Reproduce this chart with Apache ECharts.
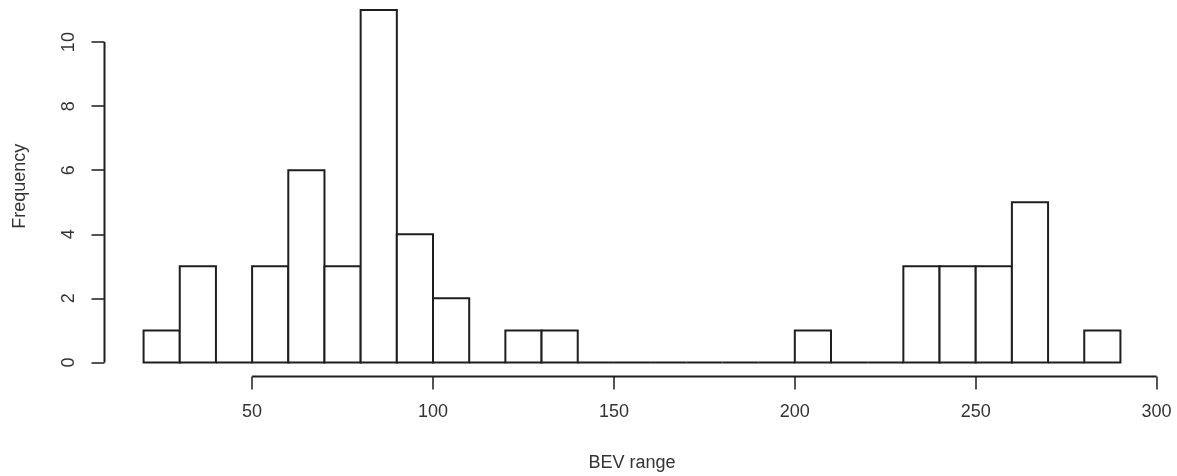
<!DOCTYPE html>
<html>
<head>
<meta charset="utf-8">
<script src="https://cdn.jsdelivr.net/npm/echarts@6/dist/echarts.min.js"></script>
<style>
  html, body { margin: 0; padding: 0; background: #fff; }
  #chart { width: 1177px; height: 476px; }
</style>
</head>
<body>
<div id="chart"></div>
<script>
// histogram of BEV range, bins of width 10
const binStarts = [20, 30, 40, 50, 60, 70, 80, 90, 100, 110, 120, 130, 140, 150, 160, 170, 180, 190,
  200, 210, 220, 230, 240, 250, 260, 270, 280];
const counts = [1, 3, 0, 3, 6, 3, 11, 4, 2, 0, 1, 1, 0, 0, 0, 0, 0, 0,
  1, 0, 0, 3, 3, 3, 5, 0, 1];
const binWidth = 10;
const xTicks = [50, 100, 150, 200, 250, 300];
const yTicks = [0, 2, 4, 6, 8, 10];

// R-style 4% padding on both axes
const dataLo = binStarts[0];
const dataHi = binStarts[binStarts.length - 1] + binWidth;
const xMin = dataLo - 0.04 * (dataHi - dataLo);
const xMax = Math.max(dataHi + 0.04 * (dataHi - dataLo), xTicks[xTicks.length - 1]);
const maxCount = Math.max(...counts);
const yMin = -0.04 * maxCount;
const yMax = maxCount * 1.04;

const ink = '#1e1e1e';
const font = 'Liberation Sans, Arial, sans-serif';

const chart = echarts.init(document.getElementById('chart'));

const option = {
  animation: false,
  grid: { left: 104.5, right: 17.5, top: -4, bottom: 99.5, outerBoundsMode: 'none', containLabel: false },
  xAxis: {
    type: 'value',
    min: xMin,
    max: xMax,
    name: 'BEV range',
    nameLocation: 'middle',
    nameGap: 78,
    nameTextStyle: { fontFamily: font, fontSize: 18, color: '#333' },
    axisLine: { show: false, onZero: false },
    splitLine: { show: false },
    axisTick: { show: true, customValues: xTicks, length: 13, lineStyle: { color: ink, width: 1.5 } },
    axisLabel: { customValues: xTicks, margin: 27, fontFamily: font, fontSize: 18, color: '#333' }
  },
  yAxis: {
    type: 'value',
    min: yMin,
    max: yMax,
    name: 'Frequency',
    nameLocation: 'middle',
    nameRotate: 90,
    nameGap: 75,
    nameTextStyle: { fontFamily: font, fontSize: 18, color: '#333' },
    axisLine: { show: false, onZero: false },
    splitLine: { show: false },
    axisTick: { show: true, customValues: yTicks, length: 13, lineStyle: { color: ink, width: 1.5 } },
    axisLabel: { customValues: yTicks, rotate: 90, margin: 26, fontFamily: font, fontSize: 18, color: '#333' }
  },
  series: [
    {
      type: 'custom',
      data: binStarts.map((s, i) => [s, s + binWidth, counts[i]]),
      renderItem: function (params, api) {
        const p0 = api.coord([api.value(0), 0]);
        const p1 = api.coord([api.value(1), api.value(2)]);
        return {
          type: 'rect',
          shape: { x: p0[0], y: p1[1], width: p1[0] - p0[0], height: p0[1] - p1[1] },
          style: { fill: '#fff', stroke: ink, lineWidth: 2 }
        };
      },
      clip: false
    },
    {
      // x axis line spanning first to last tick
      type: 'line',
      data: [[xTicks[0], yMin], [xTicks[xTicks.length - 1], yMin]],
      symbol: 'none',
      clip: false,
      lineStyle: { color: ink, width: 2 }
    },
    {
      // y axis line spanning first to last tick
      type: 'line',
      data: [[xMin, yTicks[0]], [xMin, yTicks[yTicks.length - 1]]],
      symbol: 'none',
      clip: false,
      lineStyle: { color: ink, width: 2 }
    }
  ]
};

chart.setOption(option);
</script>
</body>
</html>
